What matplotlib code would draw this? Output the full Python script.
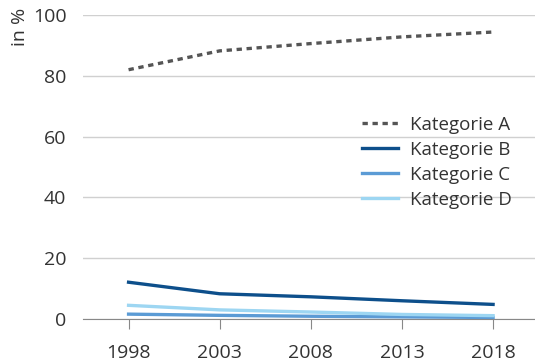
import matplotlib.pyplot as plt

years = [1998, 2003, 2008, 2013, 2018]
kat_a = [82.0, 88.2, 90.6, 92.8, 94.4]
kat_b = [12.1, 8.3, 7.3, 6.0, 4.8]
kat_c = [1.6, 1.2, 0.9, 0.7, 0.5]
kat_d = [4.5, 3.0, 2.3, 1.5, 1.1]
labels = ["Kategorie A", "Kategorie B", "Kategorie C", "Kategorie D"]

plt.rcParams['font.family'] = ['Open Sans', 'DejaVu Sans']
txt = "#333333"

fig = plt.figure(figsize=(5.35, 3.61), dpi=100)
ax = fig.add_axes([83/535, 1-319/361, 1-83/535, (319-15)/361])

ax.plot(years, kat_a, color="#555555", lw=2.4, ls=(0, (1.6, 1.4)), label=labels[0])
ax.plot(years, kat_b, color="#0d4f8b", lw=2.4, label=labels[1])
ax.plot(years, kat_c, color="#5b9bd5", lw=2.4, label=labels[2])
ax.plot(years, kat_d, color="#9dd6f2", lw=2.4, label=labels[3])

ax.set_xlim(1995.5, 2020.3)
ax.set_ylim(0, 100)
ax.set_yticks([0, 20, 40, 60, 80, 100])
ax.set_xticks(years)
ax.grid(axis="y", color="#d0d0d0", lw=1)
ax.set_axisbelow(True)
for s in ["top", "right", "left"]:
    ax.spines[s].set_visible(False)
ax.spines["bottom"].set_color("#888888")
ax.spines["bottom"].set_zorder(0.5)
ax.tick_params(axis="y", length=0, pad=12, labelsize=14, labelcolor=txt)
ax.tick_params(axis="x", length=7, color="#888888", pad=11, labelsize=14, labelcolor=txt)

fig.text(20/535, 1-27/361, "in %", rotation=90, ha="center", va="center", fontsize=14, color=txt)

leg = ax.legend(loc="upper left", bbox_to_anchor=(0.617, 0.668), frameon=False, fontsize=13.5,
                borderpad=0, borderaxespad=0,
                handlelength=1.9, handletextpad=0.65, labelspacing=0.37)
for t in leg.get_texts():
    t.set_color(txt)

fig.savefig("out.png", dpi=100)
